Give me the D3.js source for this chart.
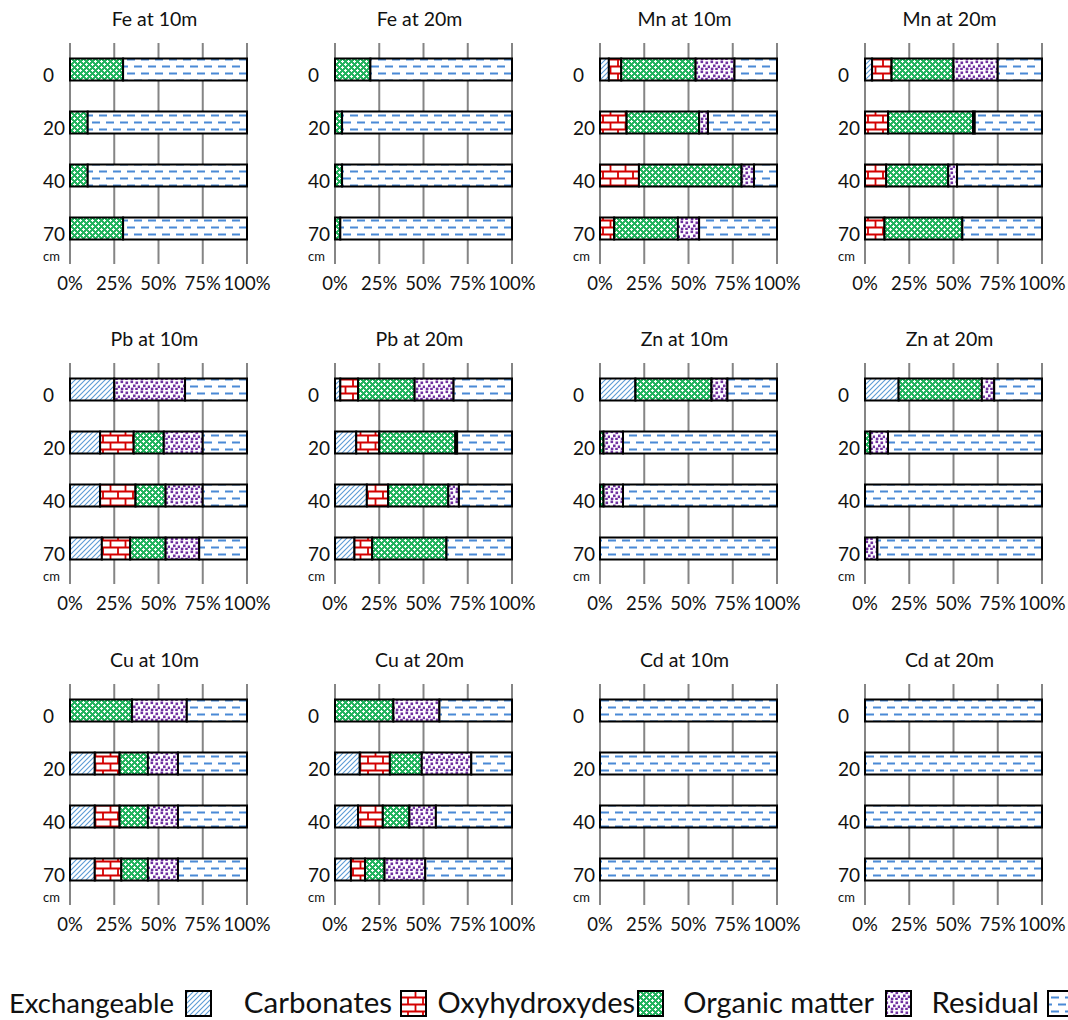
<!DOCTYPE html>
<html>
<head>
<meta charset="utf-8">
<script src="https://cdn.jsdelivr.net/npm/d3@7"></script>
<style>
  body { margin: 0; background: #fff; }
  svg { display: block; font-family: Lato, "Open Sans", sans-serif; }
</style>
</head>
<body>
<svg id="chart" width="1068" height="1020"></svg>
<script>
// Fractions of the sequential extraction, in stacking order
const fractions = ["Exchangeable", "Carbonates", "Oxyhydroxydes", "Organic matter", "Residual"];
// Sediment depths (cm)
const depths = ["0", "20", "40", "70"];
// Percentage axis ticks
const percentTicks = [0, 25, 50, 75, 100];
const percentLabels = ["0%", "25%", "50%", "75%", "100%"];

// Share of each fraction (%), one row per depth: 0, 20, 40, 70 cm
const fe10 = [[0, 0, 30, 0, 70], [0, 0, 10, 0, 90], [0, 0, 10, 0, 90], [0, 0, 30, 0, 70]];
const fe20 = [[0, 0, 20, 0, 80], [0, 0, 4, 0, 96], [0, 0, 4, 0, 96], [0, 0, 3, 0, 97]];
const mn10 = [[5, 7, 42, 22, 24], [0, 15, 41, 5, 39], [0, 22, 58, 7, 13], [0, 8, 36, 12, 44]];
const mn20 = [[4, 11, 35, 25, 25], [0, 13, 48, 1, 38], [0, 12, 35, 5, 48], [0, 11, 44, 0, 45]];
const pb10 = [[25, 0, 0, 40, 35], [17, 19, 17, 22, 25], [17, 20, 17, 21, 25], [18, 16, 20, 19, 27]];
const pb20 = [[3, 10, 32, 22, 33], [12, 13, 43, 1, 31], [18, 12, 34, 6, 30], [11, 10, 42, 0, 37]];
const zn10 = [[20, 0, 43, 9, 28], [0, 0, 2, 11, 87], [0, 0, 2, 11, 87], [0, 0, 0, 0, 100]];
const zn20 = [[19, 0, 47, 7, 27], [0, 0, 3, 10, 87], [0, 0, 0, 0, 100], [0, 0, 0, 7, 93]];
const cu10 = [[0, 0, 35, 31, 34], [14, 14, 16, 17, 39], [14, 14, 16, 17, 39], [14, 15, 15, 17, 39]];
const cu20 = [[0, 0, 33, 26, 41], [14, 17, 18, 28, 23], [13, 14, 15, 15, 43], [9, 8, 11, 23, 49]];
const cd10 = [[0, 0, 0, 0, 100], [0, 0, 0, 0, 100], [0, 0, 0, 0, 100], [0, 0, 0, 0, 100]];
const cd20 = [[0, 0, 0, 0, 100], [0, 0, 0, 0, 100], [0, 0, 0, 0, 100], [0, 0, 0, 0, 100]];

const panelTitles = [
  "Fe at 10m", "Fe at 20m", "Mn at 10m", "Mn at 20m",
  "Pb at 10m", "Pb at 20m", "Zn at 10m", "Zn at 20m",
  "Cu at 10m", "Cu at 20m", "Cd at 10m", "Cd at 20m"
];
const panelValues = [fe10, fe20, mn10, mn20, pb10, pb20, zn10, zn20, cu10, cu20, cd10, cd20];

const svg = d3.select("#chart");
const defs = svg.append("defs");
const ink = "#111";

// ---- fill patterns (one per fraction) ----
function pattern(id, w, h, bg) {
  const p = defs.append("pattern").attr("id", id)
    .attr("patternUnits", "userSpaceOnUse").attr("width", w).attr("height", h);
  p.append("rect").attr("width", w).attr("height", h).attr("fill", bg);
  return p;
}
// Exchangeable: light blue upward diagonals
pattern("pat-exch", 5, 5, "#fff").append("path")
  .attr("d", "M-1,1 L1,-1 M0,5 L5,0 M4,6 L6,4")
  .attr("stroke", "#5b9bd5").attr("stroke-width", 1.1);
// Carbonates: red horizontal bricks
pattern("pat-carb", 15, 14, "#fff").append("path")
  .attr("d", "M0,3.5 H15 M0,10.5 H15 M3,3.5 V10.5 M10.5,10.5 V14 M10.5,0 V3.5")
  .attr("stroke", "#d40000").attr("stroke-width", 1.8).attr("fill", "none");
// Oxyhydroxydes: green lattice with white crosses
{
  const p = pattern("pat-oxy", 6, 6, "#22b35e");
  p.append("path").attr("d", "M1.5,0 V3 M0,1.5 H3 M4.5,3 V6 M3,4.5 H6")
    .attr("stroke", "#fff").attr("stroke-width", 1.1);
}
// Organic matter: purple confetti squares
{
  const p = pattern("pat-org", 10, 10, "#fff");
  const dots = [[0.5, 0.5], [5.5, 1.5], [3, 4.5], [7.8, 5.5], [0.8, 7.6], [5.2, 7.8]];
  p.selectAll("rect.dot").data(dots).join("rect").attr("class", "dot")
    .attr("x", d => d[0]).attr("y", d => d[1])
    .attr("width", 2.6).attr("height", 2.6).attr("fill", "#7030a0");
}
// Residual: blue dashed horizontals
pattern("pat-res", 14, 14, "#fff").append("path")
  .attr("d", "M1,3.5 H9 M8,10.5 H14 M0,10.5 H2")
  .attr("stroke", "#4a8ad6").attr("stroke-width", 1.8).attr("fill", "none");

const fillFor = {
  "Exchangeable": "url(#pat-exch)",
  "Carbonates": "url(#pat-carb)",
  "Oxyhydroxydes": "url(#pat-oxy)",
  "Organic matter": "url(#pat-org)",
  "Residual": "url(#pat-res)"
};

// ---- panel layout ----
const colX = [70, 335, 600, 865];
const rowY = [0, 320, 641];
const plotW = 177;
const gridTop = 43, gridBottom = 264, bandTop = 43, bandBottom = 255;

const stack = d3.stack().keys(fractions);

panelValues.forEach((values, i) => {
  const x0 = colX[i % 4];
  const y0 = rowY[Math.floor(i / 4)];
  const g = svg.append("g").attr("transform", `translate(${x0},${y0})`);

  const x = d3.scaleLinear().domain([0, 100]).range([0, plotW]);
  const y = d3.scaleBand().domain(depths).range([bandTop, bandBottom])
    .paddingInner(0.585).paddingOuter(0.2925);

  // title
  g.append("text").attr("x", plotW / 2 - 4).attr("y", 26)
    .attr("text-anchor", "middle").attr("font-size", 19.5).attr("fill", ink)
    .text(panelTitles[i]);

  // vertical gridlines
  g.selectAll("line.grid").data(percentTicks).join("line").attr("class", "grid")
    .attr("x1", d => x(d)).attr("x2", d => x(d))
    .attr("y1", gridTop).attr("y2", gridBottom)
    .attr("stroke", "#858585").attr("stroke-width", 2);

  // percentage tick labels
  g.selectAll("text.tick").data(percentTicks).join("text").attr("class", "tick")
    .attr("x", d => x(d)).attr("y", 290)
    .attr("text-anchor", "middle").attr("font-size", 18.5).attr("fill", ink)
    .text((d, k) => percentLabels[k]);

  // depth labels
  g.selectAll("text.depth").data(depths).join("text").attr("class", "depth")
    .attr("x", -27).attr("y", d => y(d) + y.bandwidth() + 2)
    .attr("font-size", 19).attr("fill", ink)
    .text(d => d);
  g.append("text").attr("x", -27).attr("y", 261)
    .attr("font-size", 13).attr("fill", ink).text("cm");

  // stacked bars
  const rows = values.map((r, k) => {
    const o = { depth: depths[k] };
    fractions.forEach((f, j) => { o[f] = r[j]; });
    return o;
  });
  const layers = stack(rows);
  g.selectAll("g.layer").data(layers).join("g").attr("class", "layer")
    .attr("fill", d => fillFor[d.key])
    .selectAll("rect")
    .data(d => d.filter(s => s[1] - s[0] > 0))
    .join("rect")
    .attr("x", d => x(d[0])).attr("width", d => x(d[1]) - x(d[0]))
    .attr("y", d => y(d.data.depth)).attr("height", y.bandwidth())
    .attr("stroke", "#000").attr("stroke-width", 2);
});

// ---- legend ----
const legendBoxX = [186, 401, 638, 886, 1048];
const legendGap = [12, 9, 3, 12, 9];
const legendSize = [27.5, 29.5, 29, 29, 29.5];
const legend = svg.append("g");
fractions.forEach((f, k) => {
  legend.append("text").attr("x", legendBoxX[k] - legendGap[k]).attr("y", 1013)
    .attr("text-anchor", "end").attr("font-size", legendSize[k]).attr("fill", ink).text(f);
  legend.append("rect").attr("x", legendBoxX[k]).attr("y", 991)
    .attr("width", 25).attr("height", 25)
    .attr("fill", fillFor[f]).attr("stroke", "#000").attr("stroke-width", 2);
});
</script>
</body>
</html>
